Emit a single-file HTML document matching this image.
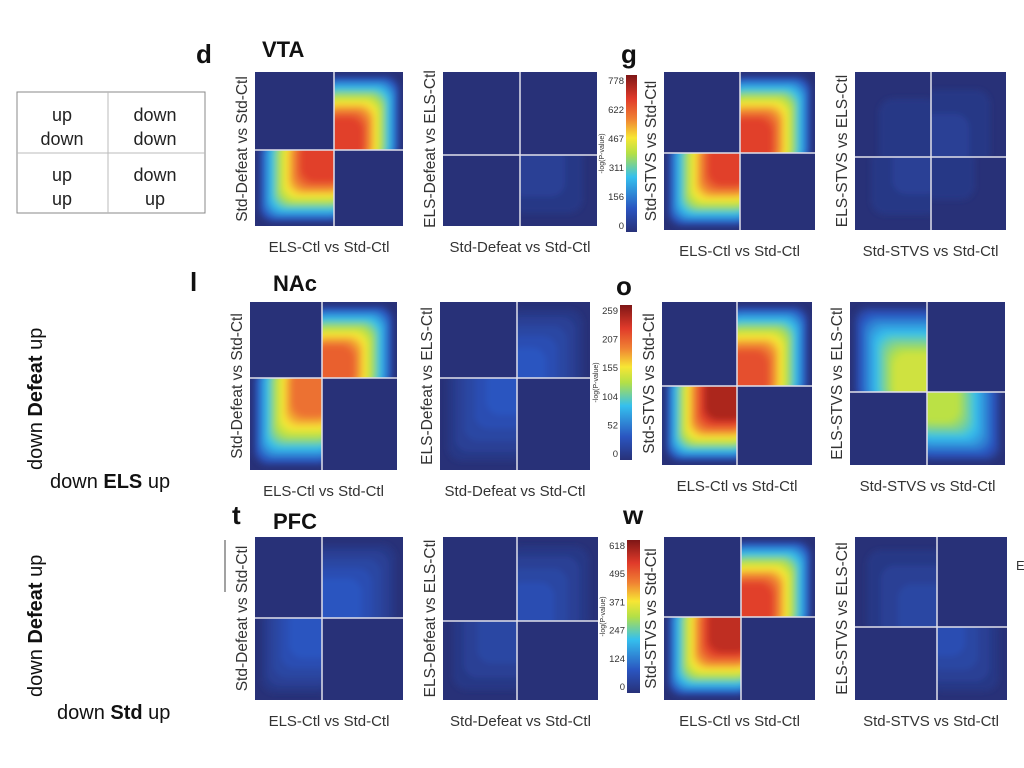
<!DOCTYPE html>
<html><head><meta charset="utf-8">
<style>
html,body{margin:0;padding:0;background:#fff;width:1024px;height:768px;overflow:hidden}
svg{display:block;font-family:"Liberation Sans",sans-serif}
</style></head>
<body>
<svg id="fig" width="1024" height="768" viewBox="0 0 1024 768">
<defs>
<filter id="blur" x="-10%" y="-10%" width="120%" height="120%"><feGaussianBlur stdDeviation="3"/></filter>
<linearGradient id="jetgrad" x1="0" y1="1" x2="0" y2="0">
<stop offset="0" stop-color="#283178"/><stop offset="0.15" stop-color="#2a55c0"/>
<stop offset="0.35" stop-color="#35c0ee"/><stop offset="0.5" stop-color="#b4e046"/>
<stop offset="0.6" stop-color="#f7e634"/><stop offset="0.72" stop-color="#f08233"/>
<stop offset="0.85" stop-color="#e03a2a"/><stop offset="1" stop-color="#7e1616"/>
</linearGradient>
</defs>
<g font-size="18" fill="#222" text-anchor="middle">
<rect x="17" y="92" width="188" height="121" fill="none" stroke="#888" stroke-width="1"/>
<line x1="108" y1="92" x2="108" y2="213" stroke="#bbb"/>
<line x1="17" y1="153" x2="205" y2="153" stroke="#bbb"/>
<text x="62" y="121">up</text><text x="62" y="145">down</text>
<text x="155" y="121">down</text><text x="155" y="145">down</text>
<text x="62" y="181">up</text><text x="62" y="205">up</text>
<text x="155" y="181">down</text><text x="155" y="205">up</text>
</g>
<g font-size="20" fill="#111">
<text transform="translate(42,470) rotate(-90)">down <tspan font-weight="bold">Defeat</tspan> up</text>
<text x="50" y="488">down <tspan font-weight="bold">ELS</tspan> up</text>
<text transform="translate(42,697) rotate(-90)">down <tspan font-weight="bold">Defeat</tspan> up</text>
<text x="57" y="719">down <tspan font-weight="bold">Std</tspan> up</text>
</g>
<g font-weight="bold" fill="#111">
<text x="196" y="63" font-size="26">d</text><text x="262" y="57" font-size="22">VTA</text>
<text x="621" y="63" font-size="26">g</text>
<text x="190" y="291" font-size="26">l</text><text x="273" y="291" font-size="22">NAc</text>
<text x="616" y="295" font-size="26">o</text>
<text x="232" y="524" font-size="26">t</text><text x="273" y="529" font-size="22">PFC</text>
<text x="623" y="524" font-size="26">w</text>
</g>
<line x1="225" y1="540" x2="225" y2="592" stroke="#444" stroke-width="1"/>
<text x="1016" y="570" font-size="13" fill="#333">E</text>
<g id="charts"></g>
</svg>
<script>
// quadrant intensities [upper-left, upper-right, lower-left, lower-right] relative to each row's color scale (0..1)
const vtaQuadrants = [[0,0.85,0.85,0],[0.02,0.02,0.02,0.08],[0,0.86,0.85,0],[0.05,0.07,0.07,0.04]];
const nacQuadrants = [[0,0.8,0.76,0],[0,0.15,0.15,0],[0,0.82,0.95,0],[0.56,0,0,0.52]];
const pfcQuadrants = [[0,0.17,0.17,0],[0,0.13,0.11,0],[0,0.86,0.92,0],[0.1,0,0,0.12]];
const vtaTicks = ["778","622","467","311","156","0"];
const nacTicks = ["259","207","155","104","52","0"];
const pfcTicks = ["618","495","371","247","124","0"];
const xTitles = ["ELS-Ctl vs Std-Ctl","Std-Defeat vs Std-Ctl","ELS-Ctl vs Std-Ctl"];
const xTitles4 = ["Std-STVS vs Std-Ctl"];
const yTitles = ["Std-Defeat vs Std-Ctl","ELS-Defeat vs ELS-Ctl","Std-STVS vs Std-Ctl","ELS-STVS vs ELS-Ctl"];

const NS="http://www.w3.org/2000/svg";
const root=document.getElementById('charts');
function mk(tag,attrs,parent){const e=document.createElementNS(NS,tag);for(const k in attrs)e.setAttribute(k,attrs[k]);(parent||root).appendChild(e);return e;}
const stops=[[0,[40,49,120]],[0.15,[42,85,192]],[0.35,[53,192,238]],[0.5,[180,224,70]],[0.6,[247,230,52]],[0.72,[240,130,51]],[0.85,[224,58,42]],[1,[126,22,22]]];
function jet(t){t=Math.max(0,Math.min(1,t));for(let i=1;i<stops.length;i++){if(t<=stops[i][0]){const a=stops[i-1],b=stops[i];const f=(t-a[0])/(b[0]-a[0]);const c=a[1].map((v,j)=>Math.round(v+(b[1][j]-v)*f));return `rgb(${c[0]},${c[1]},${c[2]})`;}}return 'rgb(126,22,22)';}

const rows=[
 {q:vtaQuadrants,ticks:vtaTicks,cb:[626,75,637,232],boxes:[[255,72,403,226,334,150],[443,72,597,226,520,155],[664,72,815,230,740,153],[855,72,1006,230,931,157]]},
 {q:nacQuadrants,ticks:nacTicks,cb:[620,305,632,460],boxes:[[250,302,397,470,322,378],[440,302,590,470,517,378],[662,302,812,465,737,386],[850,302,1005,465,927,392]]},
 {q:pfcQuadrants,ticks:pfcTicks,cb:[627,540,640,693],boxes:[[255,537,403,700,322,618],[443,537,598,700,517,621],[664,537,815,700,741,617],[855,537,1007,700,937,627]]}
];
let clipId=0;
rows.forEach((row,ri)=>{
 row.boxes.forEach((b,pi)=>{
  const [x0,y0,x1,y1,cx,cy]=b;
  const g=mk('g',{});
  
  
  const vals=row.q[pi];
  const quads=[[x0,y0,cx,cy,'ul'],[cx,y0,x1,cy,'ur'],[x0,cy,cx,y1,'ll'],[cx,cy,x1,y1,'lr']];
  quads.forEach((qd,qi)=>{
   const [a,b2,c,d,pos]=qd;const w=c-a,h=d-b2;const v=vals[qi];
   const id='cq'+(clipId++);
   const cp=mk('clipPath',{id:id},g);mk('rect',{x:a,y:b2,width:w,height:h},cp);
   const cg=mk('g',{'clip-path':'url(#'+id+')'},g);
   
   
   mk('rect',{x:a,y:b2,width:w,height:h,fill:jet(0)},cg);
   if(v>0.01){
    const bg=mk('g',{filter:'url(#blur)'},cg);
    for(let l=0.03;l<=v+1e-6;l+=0.03){
     const f=0.96-0.56*Math.pow(l/v,1.4);
     const rw=w*f,rh=h*f;
     let rx=(pos==='ur'||pos==='lr')?a:c-rw;
     let ry=(pos==='ll'||pos==='lr')?b2:d-rh;
     const ex=(pos==='ur'||pos==='lr')?-10:0, ey=(pos==='ll'||pos==='lr')?-10:0;
     mk('rect',{x:rx+ex,y:ry+ey,width:rw+10,height:rh+10,rx:14,fill:jet(l)},bg);
    }
   }
  });
  mk('line',{x1:cx,y1:y0,x2:cx,y2:y1,stroke:'#e0e0ea','stroke-width':1.5},g);
  mk('line',{x1:x0,y1:cy,x2:x1,y2:cy,stroke:'#e0e0ea','stroke-width':1.5},g);
  const xt=mk('text',{x:(x0+x1)/2,y:y1+26,'text-anchor':'middle','font-size':15,fill:'#333'});
  
  
  xt.textContent=pi===3?xTitles4[0]:xTitles[pi];
  const yt=mk('text',{transform:`translate(${x0-8},${(y0+y1)/2}) rotate(-90)`,'text-anchor':'middle','font-size':15.5,fill:'#333'});
  
  
  yt.textContent=yTitles[pi];
 });
 const [bx0,by0,bx1,by1]=row.cb;
 const cbg=mk('g',{});
 
 
 mk('rect',{x:bx0,y:by0,width:bx1-bx0,height:by1-by0,fill:'url(#jetgrad)'},cbg);
 const n=row.ticks.length;
 row.ticks.forEach((t,i)=>{
  const yy=by0+6+(by1-by0-12)*i/(n-1);
  const tt=mk('text',{x:bx0-2,y:yy+3,'text-anchor':'end','font-size':9.5,fill:'#333'},cbg);
  
  
  tt.textContent=t;
 });
 const lt=mk('text',{transform:`translate(${bx0-22},${(by0+by1)/2}) rotate(-90)`,'text-anchor':'middle','font-size':7,fill:'#333'},cbg);
 
 
 lt.textContent='-log(P-value)';
});
</script>
</body></html>
